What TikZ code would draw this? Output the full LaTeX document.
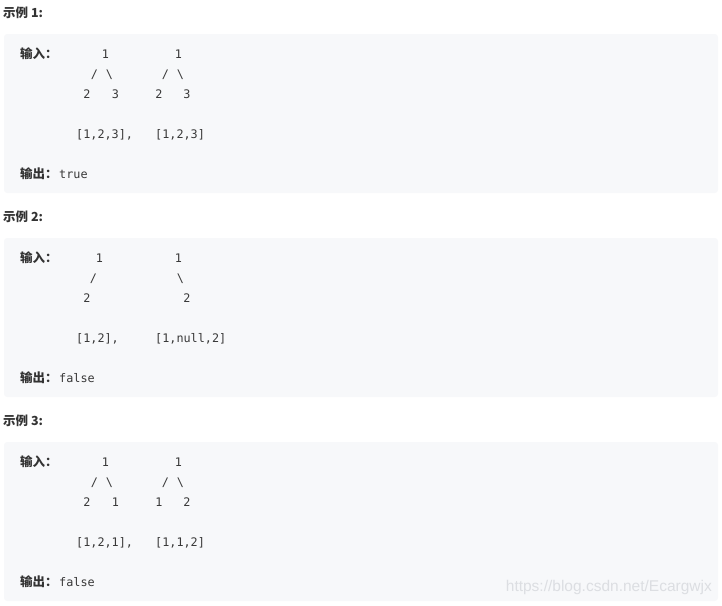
\documentclass[tikz,border=0pt]{standalone}
\usepackage{fontspec}
\usepackage{tikz}
\usepackage{xcolor}
\setmainfont{Liberation Sans}
\newfontfamily\cjk{Noto Sans CJK SC}
\newfontfamily\codefont{DejaVu Sans Mono}
\newfontfamily\markfont{Liberation Sans}
\definecolor{boxgray}{RGB}{247,248,250}
\definecolor{inkdark}{RGB}{51,51,51}
\definecolor{codeink}{RGB}{56,56,56}
\definecolor{markgray}{RGB}{220,222,226}

\begin{document}
\begin{tikzpicture}[x=1pt,y=-1pt,
  head/.style={anchor=base west,inner sep=0pt,text=inkdark,font=\cjk\bfseries\fontsize{12.5}{14}\selectfont},
  lab/.style={anchor=base west,inner sep=0pt,text=inkdark,font=\cjk\bfseries\fontsize{12.5}{14}\selectfont},
  glyph/.style={anchor=base,inner sep=0pt,text=codeink,font=\codefont\fontsize{11.8}{14}\selectfont},
  code/.style={glyph,anchor=base west}]
\useasboundingbox (0,0) rectangle (722,605);
% grey panels
\fill[boxgray,rounded corners=3pt] (4,34) rectangle (718,193);
\fill[boxgray,rounded corners=3pt] (4,238) rectangle (718,397);
\fill[boxgray,rounded corners=3pt] (4,442) rectangle (718,601);

% example 1
\node[head] (h1) at (3,17) {示例 1:};
\node[lab] (in1) at (20,58) {输入：};
\node[glyph] (e1ra) at (105.5,58) {1};
\node[glyph] (e1rb) at (178.5,58) {1};
\node[glyph] (e1sa) at (94.5,78) {/};
\node[glyph] (e1ba) at (109.5,78) {\textbackslash};
\node[glyph] (e1sb) at (165.5,78) {/};
\node[glyph] (e1bb) at (180.5,78) {\textbackslash};
\node[glyph] (e1la) at (87,98) {2};
\node[glyph] (e1ca) at (115.5,98) {3};
\node[glyph] (e1lb) at (159,98) {2};
\node[glyph] (e1cb) at (187,98) {3};
\node[code] (e1arra) at (76,138) {[1,2,3],};
\node[code] (e1arrb) at (155,138) {[1,2,3]};
\node[lab] (out1) at (20,178) {输出：};
\node[code] (res1) at (59,178) {true};

% example 2
\node[head] (h2) at (3,221) {示例 2:};
\node[lab] (in2) at (20,262) {输入：};
\node[glyph] (e2ra) at (99.5,262) {1};
\node[glyph] (e2rb) at (178.5,262) {1};
\node[glyph] (e2sa) at (93.5,282) {/};
\node[glyph] (e2bb) at (180.5,282) {\textbackslash};
\node[glyph] (e2la) at (87,302) {2};
\node[glyph] (e2cb) at (187,302) {2};
\node[code] (e2arra) at (76,342) {[1,2],};
\node[code] (e2arrb) at (155,342) {[1,null,2]};
\node[lab] (out2) at (20,382) {输出：};
\node[code] (res2) at (59,382) {false};

% example 3
\node[head] (h3) at (3,425) {示例 3:};
\node[lab] (in3) at (20,466) {输入：};
\node[glyph] (e3ra) at (105.5,466) {1};
\node[glyph] (e3rb) at (178.5,466) {1};
\node[glyph] (e3sa) at (94.5,486) {/};
\node[glyph] (e3ba) at (109.5,486) {\textbackslash};
\node[glyph] (e3sb) at (165.5,486) {/};
\node[glyph] (e3bb) at (180.5,486) {\textbackslash};
\node[glyph] (e3la) at (87,506) {2};
\node[glyph] (e3ca) at (115.5,506) {1};
\node[glyph] (e3lb) at (159,506) {1};
\node[glyph] (e3cb) at (187,506) {2};
\node[code] (e3arra) at (76,546) {[1,2,1],};
\node[code] (e3arrb) at (155,546) {[1,1,2]};
\node[lab] (out3) at (20,586) {输出：};
\node[code] (res3) at (59,586) {false};

% watermark
\node[anchor=base east,inner sep=0pt,text=markgray,font=\markfont\fontsize{15.5}{17}\selectfont] (mark) at (712,591) {https://blog.csdn.net/Ecargwjx};
\end{tikzpicture}
\end{document}
